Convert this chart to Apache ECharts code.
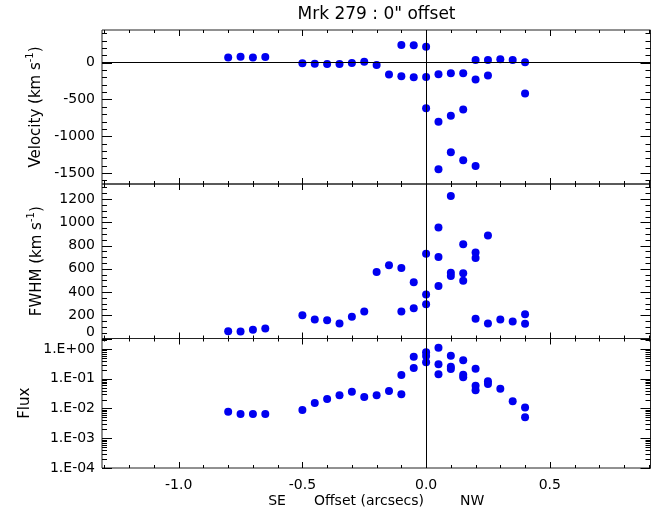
<!DOCTYPE html>
<html>
<head>
<meta charset="utf-8">
<script src="https://cdn.jsdelivr.net/npm/echarts@6/dist/echarts.min.js"></script>
<style>
html, body { margin: 0; padding: 0; background: #fff; }
#main { width: 652px; height: 517px; }
</style>
</head>
<body>
<div id="main"></div>
<script>
// offset ticks (arcsec)
var offsetTicks = [-1.0, -0.5, 0.0, 0.5];
var offsetMinor = [-1.3, -1.2, -1.1, -0.9, -0.8, -0.7, -0.6, -0.4, -0.3, -0.2, -0.1,
    0.1, 0.2, 0.3, 0.4, 0.6, 0.7, 0.8, 0.9];

var velocityTicks = [-1500, -1000, -500, 0];
var velocityMinor = [-1600, -1400, -1300, -1200, -1100, -900, -800, -700, -600,
    -400, -300, -200, -100, 100, 200, 300, 400];

var fwhmTicks = [0, 200, 400, 600, 800, 1000, 1200];
var fwhmMinor = [50, 100, 150, 250, 300, 350, 450, 500, 550, 650, 700, 750,
    850, 900, 950, 1050, 1100, 1150, 1250, 1300];

var fluxTicks = [1e-4, 1e-3, 1e-2, 1e-1, 1];
var fluxMinor = [2e-4, 3e-4, 4e-4, 5e-4, 6e-4, 7e-4, 8e-4, 9e-4,
    2e-3, 3e-3, 4e-3, 5e-3, 6e-3, 7e-3, 8e-3, 9e-3,
    2e-2, 3e-2, 4e-2, 5e-2, 6e-2, 7e-2, 8e-2, 9e-2,
    0.2, 0.3, 0.4, 0.5, 0.6, 0.7, 0.8, 0.9, 2];

// [offset, value]
var velocity = [[-0.8, 70], [-0.75, 80], [-0.7, 70], [-0.65, 78],
    [-0.5, -8], [-0.45, -13], [-0.4, -17], [-0.35, -17], [-0.3, -4], [-0.25, 14], [-0.2, -31],
    [-0.15, -162], [-0.1, 240], [-0.1, -184], [-0.05, 236], [-0.05, -198],
    [0, 218], [0, -193], [0, -618],
    [0.05, -157], [0.05, -803], [0.05, -1449],
    [0.1, -144], [0.1, -722], [0.1, -1219],
    [0.15, -144], [0.15, -636], [0.15, -1327],
    [0.2, 37], [0.2, -229], [0.2, -1404],
    [0.25, 37], [0.25, -175], [0.3, 46], [0.35, 37], [0.4, 5], [0.4, -419]];

var fwhm = [[-0.8, 62], [-0.75, 60], [-0.7, 75], [-0.65, 87],
    [-0.5, 201], [-0.45, 164], [-0.4, 158], [-0.35, 129], [-0.3, 187], [-0.25, 232],
    [-0.2, 572], [-0.15, 630], [-0.1, 607], [-0.1, 232], [-0.05, 484], [-0.05, 261],
    [0, 730], [0, 378], [0, 295],
    [0.05, 955], [0.05, 701], [0.05, 452],
    [0.1, 1227], [0.1, 567], [0.1, 538],
    [0.15, 812], [0.15, 561], [0.15, 498],
    [0.2, 741], [0.2, 692], [0.2, 169],
    [0.25, 887], [0.25, 129], [0.3, 164], [0.35, 147], [0.4, 209], [0.4, 127]];

var flux = [[-0.8, 0.0078], [-0.75, 0.0065], [-0.7, 0.0065], [-0.65, 0.0065],
    [-0.5, 0.0089], [-0.45, 0.0153], [-0.4, 0.0209], [-0.35, 0.0277], [-0.3, 0.0368],
    [-0.25, 0.0244], [-0.2, 0.0277], [-0.15, 0.0388], [-0.1, 0.0299], [-0.1, 0.134],
    [-0.05, 0.23], [-0.05, 0.552],
    [0, 0.356], [0, 0.58], [0, 0.773],
    [0.05, 1.11], [0.05, 0.305], [0.05, 0.141],
    [0.1, 0.597], [0.1, 0.255], [0.1, 0.213],
    [0.15, 0.416], [0.15, 0.137], [0.15, 0.112],
    [0.2, 0.218], [0.2, 0.0586], [0.2, 0.0408],
    [0.25, 0.0819], [0.25, 0.0667], [0.3, 0.0464], [0.35, 0.0174],
    [0.4, 0.0107], [0.4, 0.00505]];

var FONT = 'DejaVu Sans';
var BLUE = '#0000f0';
var XMIN = -1.31, XMAX = 0.907;

var panels = [
    { top: 30, height: 154, type: 'value', min: -1650, max: 445, ticks: velocityTicks, minor: velocityMinor,
      name: '{n|Velocity (km s}{s|-1}{n|)}', nameGap: 54, data: velocity },
    { top: 184, height: 154.5, type: 'value', min: 0, max: 1330, ticks: fwhmTicks, minor: fwhmMinor,
      name: '{n|FWHM (km s}{s|-1}{n|)}', nameGap: 54, data: fwhm },
    { top: 338.5, height: 129.5, type: 'log', min: 1e-4, max: 2.25, ticks: fluxTicks, minor: fluxMinor,
      name: '{n|Flux}', nameGap: 49, data: flux }
];

var nameRich = {
    n: { fontFamily: FONT, fontSize: 15, color: '#000', lineHeight: 22 },
    s: { fontFamily: FONT, fontSize: 10, color: '#000', verticalAlign: 'top', lineHeight: 22 }
};

function fluxLabel(v) {
    var e = Math.round(Math.log10(v));
    var a = Math.abs(e);
    return '1.E' + (e < 0 ? '-' : '+') + (a < 10 ? '0' : '') + a;
}

// tick marks on all four sides of a panel, placed with the panel's own axes
function tickSeries(p, xi, yi) {
    var specs = [];
    offsetTicks.forEach(function (v) { specs.push([v, 1, 6]); });
    offsetMinor.forEach(function (v) { specs.push([v, 1, 3]); });
    p.ticks.forEach(function (v) { specs.push([v, 2, 10]); });
    p.minor.forEach(function (v) { specs.push([v, 2, 5]); });
    function seg(x1, y1, x2, y2) {
        return { type: 'line', shape: { x1: x1, y1: y1, x2: x2, y2: y2 },
            style: { stroke: '#000', lineWidth: 1 } };
    }
    return {
        type: 'custom', xAxisIndex: xi, yAxisIndex: yi, data: specs, silent: true,
        encode: { x: 0, y: 1 }, z: 5,
        renderItem: function (params, api) {
            var s = specs[params.dataIndex];
            var len = s[2];
            if (s[1] === 1) {
                var b = api.coord([s[0], p.min]), t = api.coord([s[0], p.max]);
                var x = Math.round(b[0]) + 0.5;
                return { type: 'group', children: [seg(x, b[1], x, b[1] - len), seg(x, t[1], x, t[1] + len)] };
            }
            var l = api.coord([XMIN, s[0]]), r = api.coord([XMAX, s[0]]);
            var y = Math.round(l[1]) + 0.5;
            return { type: 'group', children: [seg(l[0], y, l[0] + len, y), seg(r[0], y, r[0] - len, y)] };
        }
    };
}

var grids = [], xAxes = [], yAxes = [], series = [];

panels.forEach(function (p, g) {
    grids.push({ left: 102, width: 548.5, top: p.top, height: p.height, show: true,
        borderColor: '#222', borderWidth: 1, backgroundColor: 'transparent' });

    var xAxis = { type: 'value', gridIndex: g, min: XMIN, max: XMAX, position: 'bottom',
        axisLine: { show: false, onZero: false }, axisTick: { show: false },
        splitLine: { show: false }, axisLabel: { show: false } };
    if (g === 2) {
        xAxis.axisLabel = { show: true, customValues: offsetTicks, margin: 10,
            fontFamily: FONT, fontSize: 14, color: '#000',
            formatter: function (v) { return v.toFixed(1); } };
        xAxis.name = '{t|SE}{g| }{t|Offset (arcsecs)}{h| }{t|NW}';
        xAxis.nameLocation = 'middle';
        xAxis.nameGap = 26;
        xAxis.nameTextStyle = { rich: {
            t: { fontFamily: FONT, fontSize: 14, color: '#000' },
            g: { width: 28 }, h: { width: 36 } } };
    }
    xAxes.push(xAxis);

    var yAxis = { type: p.type, gridIndex: g, min: p.min, max: p.max, position: 'left',
        axisLine: { show: false, onZero: false }, axisTick: { show: false },
        splitLine: { show: false },
        axisLabel: { show: true, customValues: p.ticks, margin: 7,
            fontFamily: FONT, fontSize: 14, color: '#000',
            formatter: p.type === 'log' ? fluxLabel : function (v) {
                return (g === 1 && v === 0) ? '{z|0}' : String(v);
            },
            rich: { z: { fontFamily: FONT, fontSize: 14, color: '#000', padding: [0, 0, 12, 0] } } },
        name: p.name, nameLocation: 'middle', nameGap: p.nameGap,
        nameTextStyle: { rich: nameRich } };
    if (p.type === 'log') yAxis.logBase = 10;
    yAxes.push(yAxis);

    var lines = [{ xAxis: 0 }];
    if (g === 0) lines.push({ yAxis: 0 });
    series.push({
        type: 'scatter', xAxisIndex: g, yAxisIndex: g, data: p.data,
        symbolSize: 8, itemStyle: { color: BLUE, opacity: 1 },
        silent: true, z: 3,
        markLine: { silent: true, symbol: 'none', label: { show: false }, animation: false, z: 4,
            lineStyle: { color: '#000', width: 1, type: 'solid' }, data: lines }
    });
    series.push(tickSeries(p, g, g));
});

var option = {
    backgroundColor: '#fff',
    animation: false,
    graphic: [{ type: 'text', x: 376.5, y: 15, style: { text: 'Mrk 279 : 0" offset',
        fontFamily: FONT, fontSize: 17, fill: '#000', textAlign: 'center', textVerticalAlign: 'middle' } }],
    grid: grids,
    xAxis: xAxes,
    yAxis: yAxes,
    series: series
};

var chart = echarts.init(document.getElementById('main'), null, { renderer: 'canvas' });
chart.setOption(option);
</script>
</body>
</html>
